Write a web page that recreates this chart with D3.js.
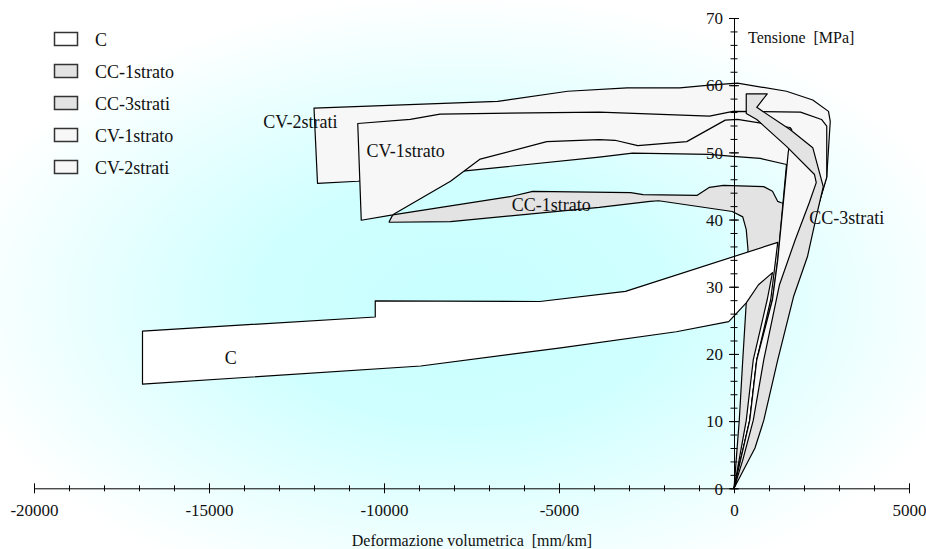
<!DOCTYPE html>
<html>
<head>
<meta charset="utf-8">
<title>Tensione - deformazione volumetrica</title>
<style>
body { margin: 0; background: #fff; }
svg text { font-family: "Liberation Serif", "Times New Roman", serif; fill: #111; }
.band { stroke: #000; stroke-width: 1.2px; stroke-linejoin: round; }
.axis path, .axis line { stroke: #000; stroke-width: 1px; }
</style>
</head>
<body>
<div id="graphic"></div>
<script src="https://d3js.org/d3.v7.min.js"></script>
<script>

var w = 926;
var h = 549;

// each band: outline points [deformazione volumetrica (mm/km), tensione (MPa)]
var bandC = [
    [-16900, 23.4], [-10250, 25.5], [-10250, 27.9], [-5550, 27.8], [-3100, 29.3], [1250, 36.6],
    [1050, 28.1], [650, 19.1], [450, 10.1], [0, 0],
    [350, 10.1], [550, 19.1], [950, 28.1], [1100, 32.1],
    [700, 30.3], [350, 27.6], [-150, 24.8], [-1650, 23.3], [-4950, 20.9], [-8950, 18.2], [-16900, 15.5]
];

var bandCC1 = [
    [-9850, 39.7], [-9750, 40.7], [-6400, 43.4], [-5750, 44.2], [-2950, 44.0], [-2600, 43.7],
    [-1050, 43.6], [-700, 44.8], [-300, 45.1], [850, 44.9], [1100, 44.2], [1250, 42.7], [1350, 42.5],
    [1650, 42.2], [1400, 34.0], [1100, 25.1], [650, 13.1], [0, 0],
    [150, 10.1], [250, 19.1], [350, 27.6], [400, 35.5], [350, 38.5], [250, 40.4], [-50, 41.2],
    [-2150, 42.8], [-2400, 42.7], [-3850, 41.8], [-8100, 39.7], [-9850, 39.6]
];

var bandCC3 = [
    [350, 58.7], [950, 58.7], [650, 56.7], [1600, 53.4], [2250, 50.7], [2550, 44.9], [2350, 40.4],
    [2100, 34.5], [1700, 28.5], [1250, 19.1], [850, 10.1], [600, 6.0], [0, 0],
    [250, 4.2], [550, 10.1], [850, 19.1], [1300, 30.3], [1750, 37.0], [2150, 42.5], [2350, 45.5],
    [2300, 46.7], [1500, 50.9], [650, 54.9], [350, 55.8]
];

var bandCV1 = [
    [-10750, 54.3], [-9250, 54.9], [-8400, 55.7], [-3850, 56.0], [-700, 55.4], [-30, 56.1],
    [1900, 56.0], [2500, 54.9], [2650, 53.9], [2650, 46.3],
    [2250, 39.3], [1900, 32.5], [1450, 25.1], [1050, 19.1], [750, 11.6], [450, 6.0], [0, 0],
    [450, 10.1], [650, 19.1], [1100, 28.1], [1250, 34.0], [1550, 50.0], [1650, 53.4],
    [1600, 53.7], [100, 54.9], [-250, 54.8], [-1350, 51.6], [-2750, 51.0], [-3400, 51.8],
    [-3850, 51.9], [-5350, 51.6], [-7250, 49.0], [-8100, 45.7], [-9750, 40.7], [-10650, 39.9]
];

var bandCV2 = [
    [-12000, 56.6], [-6750, 57.6], [-4750, 59.1], [-3050, 59.6], [-1550, 59.6], [-700, 60.0],
    [100, 60.3], [1500, 59.1], [2250, 57.8], [2700, 56.1], [2750, 54.6], [2650, 46.4],
    [2250, 39.3], [1900, 32.5], [1450, 25.1], [1050, 19.1], [750, 11.6], [450, 6.0], [0, 0],
    [450, 10.1], [650, 19.1], [1100, 28.1], [1250, 34.0], [1500, 48.2],
    [750, 49.1], [-30, 49.4], [-700, 49.7], [-2900, 49.9], [-3850, 49.3], [-7750, 47.2],
    [-10750, 45.7], [-11900, 45.4]
];

// label name, strain, stress (text start / baseline)
var bandLabels = [
    ["C", -14550, 18.5],
    ["CC-1strato", -6350, 41.2],
    ["CV-1strato", -10500, 49.3],
    ["CV-2strati", -13450, 53.6],
    ["CC-3strati", 2150, 39.4]
];

var legendNames = ["C", "CC-1strato", "CC-3strati", "CV-1strato", "CV-2strati"];

var xMajorTicks = [-20000, -15000, -10000, -5000, 0, 5000];
var xMinorTicks = d3.range(-20000, 5001, 1000);
var yMajorTicks = [0, 10, 20, 30, 40, 50, 60, 70];
var yMinorTicks = d3.range(0, 71, 2);

var fillGray = "#e3e3e3";
var fillLight = "#f7f7f7";
var legendFills = ["#ffffff", fillGray, fillGray, fillLight, fillLight];

var svg = d3.select("#graphic")
    .append("svg")
    .attr("width", w)
    .attr("height", h);

// soft cyan background
var grad = svg.append("defs")
    .append("radialGradient")
    .attr("id", "bg")
    .attr("cx", 0.5)
    .attr("cy", 0.55)
    .attr("r", 0.56);
grad.append("stop").attr("offset", 0).attr("stop-color", "#c8ffff");
grad.append("stop").attr("offset", 0.4).attr("stop-color", "#d0ffff");
grad.append("stop").attr("offset", 1).attr("stop-color", "#ffffff");

svg.append("rect")
    .attr("width", w)
    .attr("height", h)
    .attr("fill", "url(#bg)");

var x = d3.scaleLinear().domain([-20000, 5000]).range([34, 909]);
var y = d3.scaleLinear().domain([0, 70]).range([488.3, 18]);

var line = d3.line()
    .x(function(d) { return x(d[0]); })
    .y(function(d) { return y(d[1]); })
    .curve(d3.curveLinearClosed);

// draw order = stacking seen in the picture
var bands = [
    { pts: bandCC1, fill: fillGray },
    { pts: bandC, fill: "#ffffff" },
    { pts: bandCV2, fill: fillLight },
    { pts: bandCV1, fill: fillLight },
    { pts: bandCC3, fill: fillGray }
];

svg.append("g")
    .selectAll("path")
    .data(bands)
    .enter().append("path")
    .attr("class", "band")
    .attr("d", function(d) { return line(d.pts); })
    .attr("fill", function(d) { return d.fill; });

// x axis
var xg = svg.append("g")
    .attr("class", "axis")
    .attr("transform", "translate(0," + y(0) + ")");

xg.append("g")
    .call(d3.axisBottom(x).tickValues(xMinorTicks).tickFormat("").tickSizeOuter(0))
    .call(function(g) {
        g.selectAll(".tick line").attr("y1", -3).attr("y2", 3);
    });

xg.append("g")
    .call(d3.axisBottom(x).tickValues(xMajorTicks).tickFormat(d3.format("d")).tickSizeOuter(0))
    .attr("font-family", null)
    .attr("font-size", null)
    .call(function(g) {
        g.select(".domain").remove();
        g.selectAll(".tick line").attr("y1", -5).attr("y2", 5);
        g.selectAll(".tick text")
            .attr("y", 16)
            .attr("dy", "0.71em")
            .style("font-size", "17px")
            .text(function(d) { return d < 0 ? "-" + Math.abs(d) : d; });
    });

// y axis
var yg = svg.append("g")
    .attr("class", "axis")
    .attr("transform", "translate(" + x(0) + ",0)");

yg.append("g")
    .call(d3.axisLeft(y).tickValues(yMinorTicks).tickFormat("").tickSizeOuter(0))
    .call(function(g) {
        g.selectAll(".tick line").attr("x1", -3.5).attr("x2", 3.5);
    });

yg.append("g")
    .call(d3.axisLeft(y).tickValues(yMajorTicks).tickSizeOuter(0))
    .attr("font-family", null)
    .attr("font-size", null)
    .call(function(g) {
        g.select(".domain").remove();
        g.selectAll(".tick line").attr("x1", -5).attr("x2", 5);
        g.selectAll(".tick text")
            .attr("x", -11)
            .attr("dy", "0.34em")
            .style("font-size", "17px");
    });

// axis titles
svg.append("text")
    .attr("x", 472)
    .attr("y", 546)
    .attr("text-anchor", "middle")
    .style("font-size", "16px")
    .style("white-space", "pre")
    .text("Deformazione volumetrica  [mm/km]");

svg.append("text")
    .attr("x", 748)
    .attr("y", 43)
    .style("font-size", "16px")
    .style("white-space", "pre")
    .text("Tensione  [MPa]");

// band labels
svg.append("g")
    .selectAll("text")
    .data(bandLabels)
    .enter().append("text")
    .attr("x", function(d) { return x(d[1]); })
    .attr("y", function(d) { return y(d[2]); })
    .style("font-size", "18px")
    .text(function(d) { return d[0]; });

// legend
var legend = svg.append("g")
    .selectAll("g")
    .data(legendNames)
    .enter().append("g")
    .attr("transform", function(d, i) { return "translate(54," + (39 + i * 32) + ")"; });

legend.append("rect")
    .attr("x", 0.5)
    .attr("y", -6.5)
    .attr("width", 23)
    .attr("height", 13)
    .attr("fill", function(d, i) { return legendFills[i]; })
    .attr("stroke", "#333")
    .attr("stroke-width", 1.5);

legend.append("text")
    .attr("x", 41)
    .attr("y", 7)
    .style("font-size", "18px")
    .text(function(d) { return d; });

</script>
</body>
</html>
